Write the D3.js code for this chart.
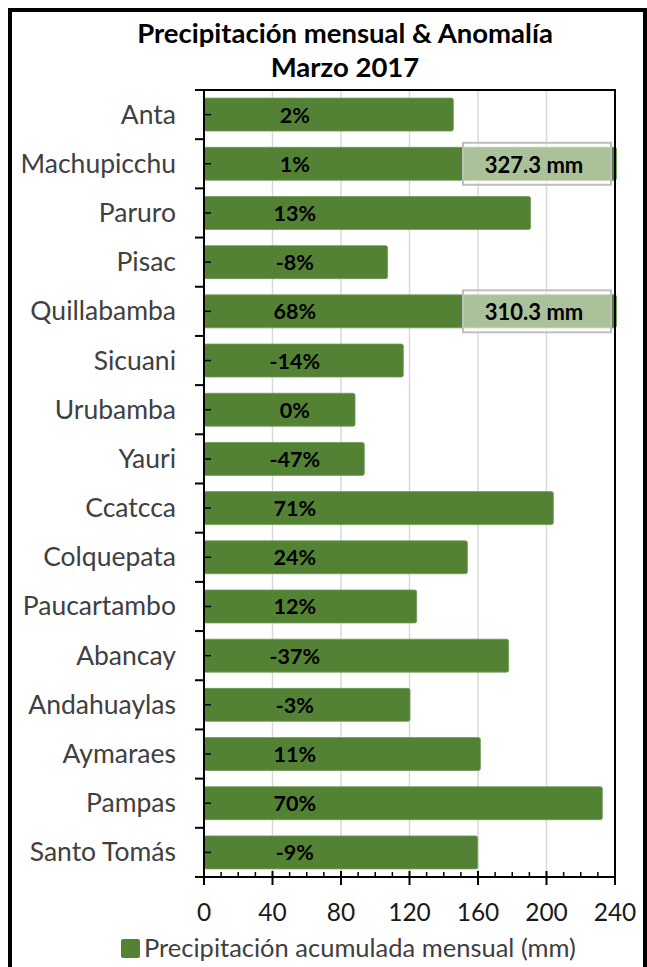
<!DOCTYPE html>
<html>
<head>
<meta charset="utf-8">
<script src="https://cdn.jsdelivr.net/npm/d3@7"></script>
<style>
  html, body { margin: 0; padding: 0; background: #fff; }
  svg { display: block; }
  text { font-family: Lato, "Noto Sans", sans-serif; }
</style>
</head>
<body>
<svg id="chart" width="647" height="967"></svg>
<script>
// ---- Data ----
const titleLines = ["Precipitación mensual & Anomalía", "Marzo 2017"];
const categories = ["Anta","Machupicchu","Paruro","Pisac","Quillabamba","Sicuani","Urubamba","Yauri",
  "Ccatcca","Colquepata","Paucartambo","Abancay","Andahuaylas","Aymaraes","Pampas","Santo Tomás"];
const precipitation = [145.6, 327.3, 190.7, 107.2, 310.3, 116.4, 88.2, 93.6,
  204.0, 153.8, 124.2, 177.9, 120.3, 161.4, 232.6, 159.8];
const anomalyLabels = ["2%","1%","13%","-8%","68%","-14%","0%","-47%",
  "71%","24%","12%","-37%","-3%","11%","70%","-9%"];
const xTicks = [0, 40, 80, 120, 160, 200, 240];
const legendLabel = "Precipitación acumulada mensual (mm)";

// ---- Layout ----
const svg = d3.select("#chart");
const plot = { left: 204, right: 615, top: 90, bottom: 877 };
const green = "#548235";
const xMax = 240;

const x = d3.scaleLinear().domain([0, xMax]).range([plot.left, plot.right]);
const y = d3.scaleBand().domain(categories).range([plot.top, plot.bottom]).paddingInner(0.33).paddingOuter(0.165);

// Outer frame
svg.append("rect")
  .attr("x", 10).attr("y", 10).attr("width", 635).attr("height", 975)
  .attr("fill", "none").attr("stroke", "#000").attr("stroke-width", 4);

// Title
svg.append("text").attr("x", 345).attr("y", 43).attr("text-anchor", "middle")
  .attr("font-size", 27.5).attr("font-weight", "bold").attr("fill", "#000").text(titleLines[0]);
svg.append("text").attr("x", 345).attr("y", 77).attr("text-anchor", "middle")
  .attr("font-size", 27.5).attr("font-weight", "bold").attr("fill", "#000").text(titleLines[1]);

// Gridlines
svg.append("g").selectAll("line").data(xTicks.slice(1, -1)).join("line")
  .attr("x1", d => x(d)).attr("x2", d => x(d))
  .attr("y1", plot.top).attr("y2", plot.bottom)
  .attr("stroke", "#d9d9d9").attr("stroke-width", 1.5);

// Clip for bars
svg.append("clipPath").attr("id", "plotclip").append("rect")
  .attr("x", plot.left).attr("y", plot.top).attr("width", plot.right - plot.left + 2).attr("height", plot.bottom - plot.top);

const rows = categories.map((c, i) => ({ cat: c, v: precipitation[i], a: anomalyLabels[i] }));

svg.append("g").attr("clip-path", "url(#plotclip)")
  .selectAll("rect").data(rows).join("rect")
  .attr("x", x(0))
  .attr("y", d => y(d.cat))
  .attr("width", d => Math.min(x(d.v), plot.right + 1.5) - x(0))
  .attr("height", y.bandwidth())
  .attr("rx", 2)
  .attr("fill", green)
  .attr("stroke", "#6f9a55").attr("stroke-width", 0.8);

// Plot area border (top & right)
svg.append("path")
  .attr("d", `M${plot.left},${plot.top}H${plot.right}V${plot.bottom}`)
  .attr("fill", "none").attr("stroke", "#000").attr("stroke-width", 2);

// Y axis with Excel-like ticks
const yAxis = svg.append("g");
yAxis.append("line").attr("x1", plot.left).attr("x2", plot.left)
  .attr("y1", plot.top).attr("y2", plot.bottom + 8).attr("stroke", "#000").attr("stroke-width", 2);
const boundaries = d3.range(categories.length + 1).map(i => plot.top + i * (plot.bottom - plot.top) / categories.length);
yAxis.selectAll("line.b").data(boundaries).join("line").attr("class", "b")
  .attr("x1", plot.left - 9).attr("x2", plot.left)
  .attr("y1", d => d).attr("y2", d => d).attr("stroke", "#000").attr("stroke-width", 2);
yAxis.selectAll("line.c").data(categories).join("line").attr("class", "c")
  .attr("x1", plot.left).attr("x2", plot.left + 7)
  .attr("y1", d => y(d) + y.bandwidth() / 2).attr("y2", d => y(d) + y.bandwidth() / 2)
  .attr("stroke", "#000").attr("stroke-width", 1.5);
yAxis.selectAll("text").data(categories).join("text")
  .attr("x", 176).attr("y", d => y(d) + y.bandwidth() / 2 + 9)
  .attr("text-anchor", "end").attr("font-size", 26.5).attr("fill", "#404040")
  .text(d => d);

// X axis
const xAxis = svg.append("g");
xAxis.append("line").attr("x1", plot.left - 9).attr("x2", plot.right)
  .attr("y1", plot.bottom).attr("y2", plot.bottom).attr("stroke", "#000").attr("stroke-width", 2);
const minorTicks = d3.range(0, xMax + 0.1, 10).filter(v => v % 40 !== 0);
xAxis.selectAll("line.mi").data(minorTicks).join("line").attr("class", "mi")
  .attr("x1", d => x(d)).attr("x2", d => x(d))
  .attr("y1", plot.bottom - 5).attr("y2", plot.bottom)
  .attr("stroke", "#000").attr("stroke-width", 1.5);
xAxis.selectAll("line.ma").data(xTicks).join("line").attr("class", "ma")
  .attr("x1", d => x(d)).attr("x2", d => x(d))
  .attr("y1", plot.bottom - 6).attr("y2", plot.bottom + 8)
  .attr("stroke", "#000").attr("stroke-width", 2);
xAxis.selectAll("text").data(xTicks).join("text")
  .attr("x", d => x(d)).attr("y", 921)
  .attr("text-anchor", "middle").attr("font-size", 24.5).attr("fill", "#1a1a1a")
  .text(d => d);

// Anomaly labels
svg.append("g").selectAll("text").data(rows).join("text")
  .attr("x", x(53)).attr("y", d => y(d.cat) + y.bandwidth() / 2 + 8)
  .attr("text-anchor", "middle").attr("font-size", 21.5).attr("font-weight", "bold").attr("fill", "#000")
  .text(d => d.a);

// Value boxes for bars exceeding the axis
const over = rows.filter(d => d.v > xMax);
const boxW = 148, boxH = 42;
const og = svg.append("g").selectAll("g").data(over).join("g");
og.append("rect")
  .attr("x", plot.right - 4 - boxW)
  .attr("y", d => y(d.cat) + y.bandwidth() / 2 - boxH / 2)
  .attr("width", boxW).attr("height", boxH)
  .attr("fill", "rgba(255,255,255,0.5)").attr("stroke", "#bfbfbf").attr("stroke-width", 2);
og.append("text")
  .attr("x", plot.right - 4 - boxW / 2 - 3)
  .attr("y", d => y(d.cat) + y.bandwidth() / 2 + 9)
  .attr("text-anchor", "middle").attr("font-size", 22).attr("font-weight", "bold").attr("fill", "#000")
  .text(d => d3.format(".1f")(d.v) + " mm");

// Legend
svg.append("rect").attr("x", 121).attr("y", 939).attr("width", 19).attr("height", 19)
  .attr("rx", 2).attr("fill", green);
svg.append("text").attr("x", 144).attr("y", 957).attr("font-size", 25.5).attr("fill", "#404040")
  .text(legendLabel);
</script>
</body>
</html>
